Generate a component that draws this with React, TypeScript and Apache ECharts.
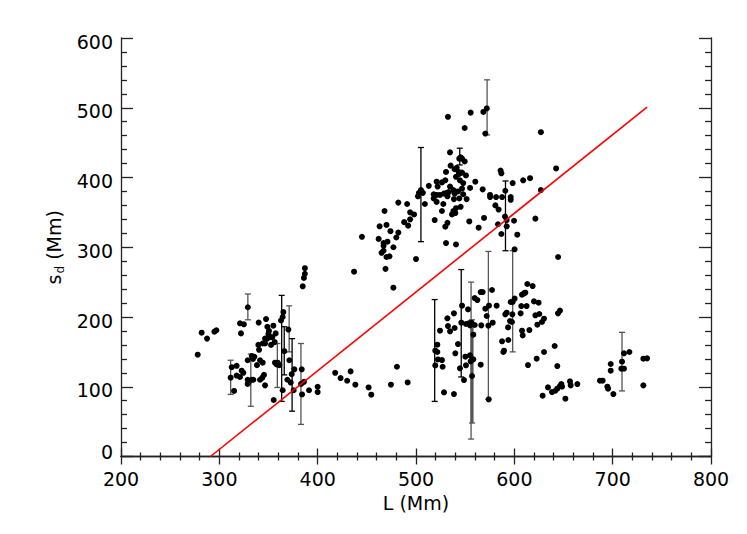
import React, { useEffect, useRef } from "react";
import * as echarts from "echarts";

// Left cluster (L < 420 Mm)
const clusterLeft: number[][] = [
  [278, 146], [282, 177.5], [287.5, 169], [295, 179], [297, 181],
  [311.5, 113], [312.6, 128], [315, 94], [317.6, 130], [317.6, 116], [321, 114], [321, 191], [322, 176.5], [322.7, 123], [324.4, 120], [325, 189.5],
  [328.8, 110], [328.8, 138], [328.8, 104], [329, 214], [330, 107], [333, 110], [333, 144], [334.3, 140], [334.6, 110], [335.6, 143],
  [338.3, 131], [340, 192], [339.7, 160], [340.4, 153], [341.4, 138], [341.4, 110], [343.7, 113], [344.1, 134.5], [344.1, 162], [345.4, 117],
  [346.5, 102], [346.5, 162], [346.5, 169], [347.5, 197], [348.8, 186], [348.8, 169], [349.9, 175.6], [350.5, 180], [352.6, 171], [352.6, 160],
  [353.9, 171], [354.9, 187.5], [355.3, 81], [356.3, 164], [356.6, 134.5], [357.3, 176.5], [358.3, 132], [359.3, 134.5], [361, 131], [362.7, 195],
  [364.4, 200], [364.4, 95], [365.1, 207], [366.1, 151], [369.2, 110], [370.2, 182], [371.2, 138], [372.6, 106], [373.6, 118], [375.6, 95],
  [376.3, 125], [383.1, 104], [383.8, 125], [384.1, 89], [384.8, 244], [386, 256], [387, 262], [387, 270], [386.1, 107], [391.2, 95],
  [400, 100], [400, 92.4],
];

// Sparse low points between the clusters
const clusterMid: number[][] = [
  [417.8, 120], [423.3, 112.5], [430, 108.6], [433.5, 122], [438.3, 103], [451.8, 99], [454.5, 88.6],
  [474.5, 103], [480.6, 128.7], [491.5, 106.2],
];

// Upper cluster (s_d > 240 Mm)
const clusterUpper: number[][] = [
  [437, 265], [445, 315], [462, 312], [463, 330], [465, 292], [467, 295], [467, 302], [467, 306], [468, 352], [470, 332],
  [470, 286], [471, 308], [473, 287], [474, 323], [477, 300], [477, 242], [469, 269], [480, 314], [482, 321], [482, 364],
  [488, 336], [491, 362], [492, 331], [494, 340], [494, 350], [498, 347], [500, 283], [502, 373], [503, 378], [505, 382],
  [507, 378], [509, 362], [513, 388], [518, 376], [518, 370], [519, 339], [521, 365], [521, 394], [522, 387], [521, 375],
  [532.5, 487], [555.6, 493], [568.5, 494], [572, 499], [570.5, 463], [549.5, 471], [627, 465], [642.5, 413],
  [534.6, 436], [545.4, 429], [544, 427], [546.8, 427], [549.5, 423], [530.5, 408], [535.2, 417], [539.3, 412], [541.4, 414],
  [544, 405], [540.7, 401], [543.4, 408], [546.8, 407], [550.8, 403], [526.4, 393], [529.8, 396], [534.6, 387], [533.2, 379],
  [531.2, 378], [528.5, 377], [538, 382], [539.3, 377], [542.7, 380], [544.7, 396], [548, 392], [546.8, 384], [548, 376],
  [551.5, 369], [555, 385], [560.3, 394], [524.4, 375], [532, 373], [527.8, 362], [538.6, 369], [544, 370], [545.4, 358],
  [540.7, 356], [538, 352], [540, 349], [536.6, 347], [526.4, 352], [532, 335], [529.8, 329.5], [530.5, 306], [540.7, 304],
  [554.2, 337], [563.7, 328], [569.2, 342], [567.8, 383], [575.3, 375], [575.3, 372], [581.4, 372], [587.5, 372], [596.3, 372],
  [598.3, 392], [596.3, 368], [586, 410], [586.8, 406], [580.7, 360], [584, 354], [609, 396], [616, 399], [627, 382],
  [621.4, 341], [583.4, 333], [586.8, 319], [592.2, 339], [592.2, 330], [599.7, 338], [603, 318], [600.3, 297], [590.8, 381],
  [590.5, 344], [644.5, 286],
];

// Lower right cluster
const clusterRight: number[][] = [
  [519.6, 151.7], [521.7, 149.8], [519.6, 130.6], [522.3, 139.2], [521.7, 160.3],
  [524.4, 180.4], [526.4, 138.3], [527.1, 128.7], [528.5, 91.9], [531.9, 198.1], [532.5, 187], [534.6, 179.4], [538.6, 205.2],
  [539.3, 184.2], [540, 147.9], [542.7, 161.2], [538.6, 89.5], [544.7, 126.4], [548.8, 109.6], [546.8, 216.2], [546.1, 191.8],
  [550.2, 143.1], [550.8, 130.7], [554.9, 145], [556.9, 138.3], [555.6, 136.4], [558.3, 139.3], [557, 115.4], [550.8, 190],
  [553.6, 190.9], [554.9, 188], [556.3, 191.8], [559.7, 188.5], [558.3, 174.6], [552.9, 211], [559.7, 227.2], [562.4, 224.3],
  [565.8, 131.6], [566.4, 188], [565.8, 235.8], [567.8, 235.8], [570.5, 211.9], [571.9, 201.4], [574.2, 216.2], [573.6, 187.5],
  [577.3, 238.7], [578, 191.8], [573.9, 81.9], [582, 216.2], [587.5, 165.1], [588.8, 149.8], [589.5, 151.7], [593.9, 167],
  [590.8, 203.8], [592.2, 206.2], [593.6, 185.1], [595.6, 194.2], [597.6, 192.8], [596.3, 221.5], [598.3, 221.5], [600.3, 226.3],
  [598, 203.8], [606.4, 205.2], [607.1, 215.7], [607.8, 180.4], [608.5, 173.7], [607.8, 232], [609.8, 233.9], [611.2, 234.9],
  [613.2, 247.3], [618.6, 244.4], [612.5, 215.7], [615.3, 181.3], [620, 222.4], [624.7, 220.5], [621.4, 202.4], [625.4, 204.3],
  [623.4, 189], [628.1, 192.8], [630.2, 197.6], [613.9, 131.1], [622.7, 140.2], [630.2, 149.8], [628.8, 87.2], [634.2, 99.1],
  [638.3, 92.4], [641.7, 94.3], [643.7, 97.2], [646.4, 101], [647.8, 103.9], [648.5, 100.1], [651.9, 82.9], [656.6, 107.7],
  [657.3, 102], [664.1, 103.9], [641, 158.4], [643.7, 129.7], [644.4, 205.2], [646.4, 209.1], [687.1, 108.7], [689.8, 108.7],
  [694.6, 100.1], [695.3, 97.2], [700.7, 89.5], [698, 132.6], [698, 123], [708.8, 125.9], [711.5, 125.9], [709.5, 135.9],
  [711.5, 147.9], [717, 149.8], [731.2, 140.2], [735, 140.7], [731.2, 102],
];

// Error bars: [L, s_d, low, high, style(0 black, 1 gray, 2 thick gray)]
const errorBars: number[][] = [
  [329, 214, 196, 233, 1], [311.5, 113, 89, 138, 1], [332, 110, 72, 147, 1], [359, 135, 99, 162, 1],
  [363.4, 155, 79, 231, 0], [366, 150, 117, 186, 0], [371, 182, 150, 216, 1], [374, 138, 65, 169, 0],
  [383, 104, 46, 162, 1], [505, 375, 308, 443, 0], [544.5, 429, 418, 442, 0], [572.3, 499, 461, 540, 1],
  [591, 381, 295, 395, 0], [519, 152, 79, 225, 0], [546, 191, 114, 268, 0], [556, 138, 25, 250, 1],
  [557, 122, 48, 196, 2], [573.6, 188, 82, 294, 1], [598.3, 204, 150, 295, 1], [709.5, 136, 94, 178, 1],
];

// Fitted line end points
const fitLine: number[][] = [[291, 0], [735, 501]];

const xTicks = [200, 300, 400, 500, 600, 700, 800];
const yTicks = [0, 100, 200, 300, 400, 500, 600];

const FONT = "DejaVu Sans";
const FS = 19;

export default function App() {
  const ref = useRef<HTMLDivElement>(null);
  useEffect(() => {
    if (!ref.current) return;
    const chart = echarts.init(ref.current, undefined, { renderer: "svg" });
    const axisLine = { show: true, lineStyle: { color: "#222", width: 1.3 } };
    const baseX = {
      type: "value" as const,
      min: xTicks[0],
      max: xTicks[xTicks.length - 1],
      interval: 100,
      splitLine: { show: false },
      axisLine,
      axisTick: { show: true, inside: true, length: 8, lineStyle: { color: "#222", width: 1.3 } },
      minorTick: { show: true, splitNumber: 5, length: 4, lineStyle: { color: "#222", width: 1.3 } },
    };
    const baseY = {
      type: "value" as const,
      min: yTicks[0],
      max: yTicks[yTicks.length - 1],
      interval: 100,
      splitLine: { show: false },
      axisLine,
      axisTick: { show: true, inside: true, length: 12, lineStyle: { color: "#222", width: 1.3 } },
      minorTick: { show: true, splitNumber: 5, length: 6, lineStyle: { color: "#222", width: 1.3 } },
    };
    const mkScatter = (data: number[][]) => ({
      type: "scatter" as const,
      data,
      symbol: "circle",
      symbolSize: 6,
      itemStyle: { color: "#000", opacity: 1 },
      z: 3,
    });
    chart.setOption({
      animation: false,
      backgroundColor: "#fff",
      grid: { left: 121, right: 36, top: 38, bottom: 77.5, containLabel: false },
      xAxis: [
        {
          ...baseX,
          position: "bottom",
          name: "L (Mm)",
          nameLocation: "middle",
          nameGap: 37,
          nameTextStyle: { fontFamily: FONT, fontSize: FS, color: "#000" },
          axisLabel: { fontFamily: FONT, fontSize: FS, color: "#000", margin: 13 },
        },
        { ...baseX, position: "top", axisLabel: { show: false } },
      ],
      yAxis: [
        {
          ...baseY,
          position: "left",
          name: "{a|s}{b|d}{a| (Mm)}",
          nameLocation: "middle",
          nameGap: 12,
          nameRotate: 90,
          nameTextStyle: {
            color: "#000",
            rich: {
              a: { fontFamily: FONT, fontSize: FS, color: "#000", lineHeight: 24, verticalAlign: "middle" },
              b: { fontFamily: FONT, fontSize: 12, color: "#000", lineHeight: 24, verticalAlign: "bottom", padding: [0, 0, 0, 1] },
            },
          },
          axisLabel: {
            fontFamily: FONT,
            fontSize: FS,
            color: "#000",
            margin: 8,
            formatter: (v: number) => (v === 0 ? "{z|0}" : "{n|" + v + "}"),
            rich: {
              z: { fontFamily: FONT, fontSize: FS, color: "#000", padding: [0, 0, 10, 0] },
              n: { fontFamily: FONT, fontSize: FS, color: "#000", padding: [7, 0, 0, 0] },
            },
          },
        },
        { ...baseY, position: "right", axisLabel: { show: false } },
      ],
      series: [
        {
          type: "custom",
          xAxisIndex: 0,
          yAxisIndex: 0,
          data: errorBars,
          encode: { x: 0, y: 1 },
          z: 2,
          renderItem: (params: any, api: any) => {
            const x = api.value(0);
            const lo = api.value(2);
            const hi = api.value(3);
            const kind = api.value(4);
            const p1 = api.coord([x, lo]);
            const p2 = api.coord([x, hi]);
            const color = kind === 0 ? "#000" : "#555";
            const lw = kind === 2 ? 3 : 1.3;
            const cw = 3;
            return {
              type: "group",
              children: [
                { type: "line", shape: { x1: p1[0], y1: p1[1], x2: p2[0], y2: p2[1] }, style: { stroke: color, lineWidth: lw } },
                { type: "line", shape: { x1: p1[0] - cw, y1: p1[1], x2: p1[0] + cw, y2: p1[1] }, style: { stroke: color, lineWidth: 1.3 } },
                { type: "line", shape: { x1: p2[0] - cw, y1: p2[1], x2: p2[0] + cw, y2: p2[1] }, style: { stroke: color, lineWidth: 1.3 } },
              ],
            };
          },
        },
        mkScatter(clusterLeft),
        mkScatter(clusterMid),
        mkScatter(clusterUpper),
        mkScatter(clusterRight),
        {
          type: "line",
          data: fitLine,
          showSymbol: false,
          symbol: "none",
          lineStyle: { color: "#ff0000", width: 1.6 },
          z: 4,
        },
      ],
    });
    return () => chart.dispose();
  }, []);
  return (
    <div
      ref={ref}
      style={{ position: "fixed", left: 0, top: 0, width: 747, height: 534, background: "#fff" }}
    />
  );
}
